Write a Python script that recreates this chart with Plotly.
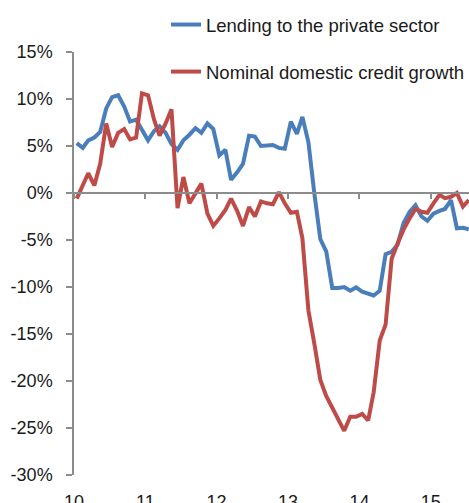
import pandas as pd
import plotly.graph_objects as go

# Monthly observations, Jan 2010 - Jul 2015 (year-on-year, %)
months = pd.date_range("2010-01-01", periods=67, freq="MS") + pd.Timedelta(days=14)

lending_private = [
    5.3, 4.8, 5.6, 5.9, 6.5, 9.0, 10.2, 10.4, 9.2, 7.6, 7.8, 6.8,
    5.6, 6.6, 7.1, 6.4, 5.2, 4.6, 5.6, 6.2, 6.9, 6.4, 7.4, 6.8,
    4.0, 4.6, 1.4, 2.2, 3.1, 6.1, 6.0, 5.0, 5.05, 5.1, 4.8, 4.7,
    7.6, 6.3, 8.1, 5.4, 0.0, -4.9, -6.2, -10.1, -10.1, -10.0, -10.4, -10.05,
    -10.5, -10.7, -10.9, -10.4, -6.5, -6.25, -5.5, -3.2, -2.0, -1.3, -2.5, -2.95,
    -2.2, -1.9, -1.7, -0.75, -3.75, -3.7, -3.85,
]

nominal_credit = [
    -0.6, 0.9, 2.1, 0.8, 3.1, 7.4, 4.9, 6.4, 6.8, 5.7, 5.9, 10.6,
    10.4, 7.8, 6.1, 7.4, 8.9, -1.6, 1.7, -1.1, 0.0, 1.0, -2.2, -3.5,
    -2.7, -1.8, -0.6, -1.9, -3.5, -1.5, -2.5, -0.9, -1.1, -1.2, 0.1, -1.1,
    -2.1, -2.0, -4.8, -12.5, -16.0, -19.9, -21.6, -22.8, -24.1, -25.3, -23.8, -23.8,
    -23.5, -24.2, -21.2, -15.7, -14.0, -7.0, -5.4, -3.9, -2.7, -1.7, -2.0, -2.1,
    -1.1, -0.2, -0.55, -0.4, 0.0, -1.45, -0.75,
]

series_names = ["Lending to the private sector", "Nominal domestic credit growth"]
year_ticks = pd.date_range("2010-01-01", "2015-01-01", freq="YS")
year_labels = ["10", "11", "12", "13", "14", "15"]
y_ticks = list(range(-30, 16, 5))
y_labels = [f"{v}%" for v in y_ticks]

BLUE = "#4A7EBB"
RED = "#BE4B48"
AXIS = "#8C8C8C"
FONT = "Liberation Sans, Arial, sans-serif"
x_range = ["2010-01-01", "2015-07-16"]

fig = go.Figure()
fig.add_trace(go.Scatter(x=months, y=lending_private, mode="lines",
                         name=series_names[0], legendgroup="a",
                         line=dict(color=BLUE, width=4)))
fig.add_trace(go.Scatter(x=months, y=nominal_credit, mode="lines",
                         name=series_names[1], legendgroup="b",
                         line=dict(color=RED, width=4)))
# helper trace so the zero-line axis (x2) is drawn
fig.add_trace(go.Scatter(x=[months[0]], y=[None], xaxis="x2", showlegend=False,
                         hoverinfo="skip", mode="lines"))

fig.update_layout(
    width=469, height=503,
    margin=dict(l=74, r=0, t=52, b=28, autoexpand=False),
    paper_bgcolor="white", plot_bgcolor="white",
    font=dict(family=FONT, size=18, color="#1a1a1a"),
    showlegend=True,
    legend=dict(
        x=(166 - 74) / 395, y=1 + 46 / 423, xanchor="left", yanchor="top",
        bgcolor="rgba(0,0,0,0)", traceorder="grouped", tracegroupgap=20,
        font=dict(family=FONT, size=18.5, color="#1a1a1a"),
    ),
    xaxis=dict(
        type="date", range=x_range,
        tickvals=year_ticks, ticktext=year_labels,
        showline=False, ticks="", showgrid=False, zeroline=False,
        ticklabelstandoff=14,
    ),
    xaxis2=dict(
        type="date", range=x_range, overlaying="x", anchor="free",
        position=2 / 3, side="bottom",
        tickvals=year_ticks, showticklabels=False,
        showline=True, linecolor=AXIS, linewidth=1.5,
        ticks="outside", ticklen=5, tickcolor=AXIS, tickwidth=1.5,
        showgrid=False, zeroline=False,
    ),
    yaxis=dict(
        range=[-30, 15], tickvals=y_ticks, ticktext=y_labels,
        showline=True, linecolor=AXIS, linewidth=1.5,
        ticks="outside", ticklen=6, tickcolor=AXIS, tickwidth=1.5,
        showgrid=False, zeroline=False, ticklabelstandoff=10,
    ),
)

fig.write_html("out.html")
